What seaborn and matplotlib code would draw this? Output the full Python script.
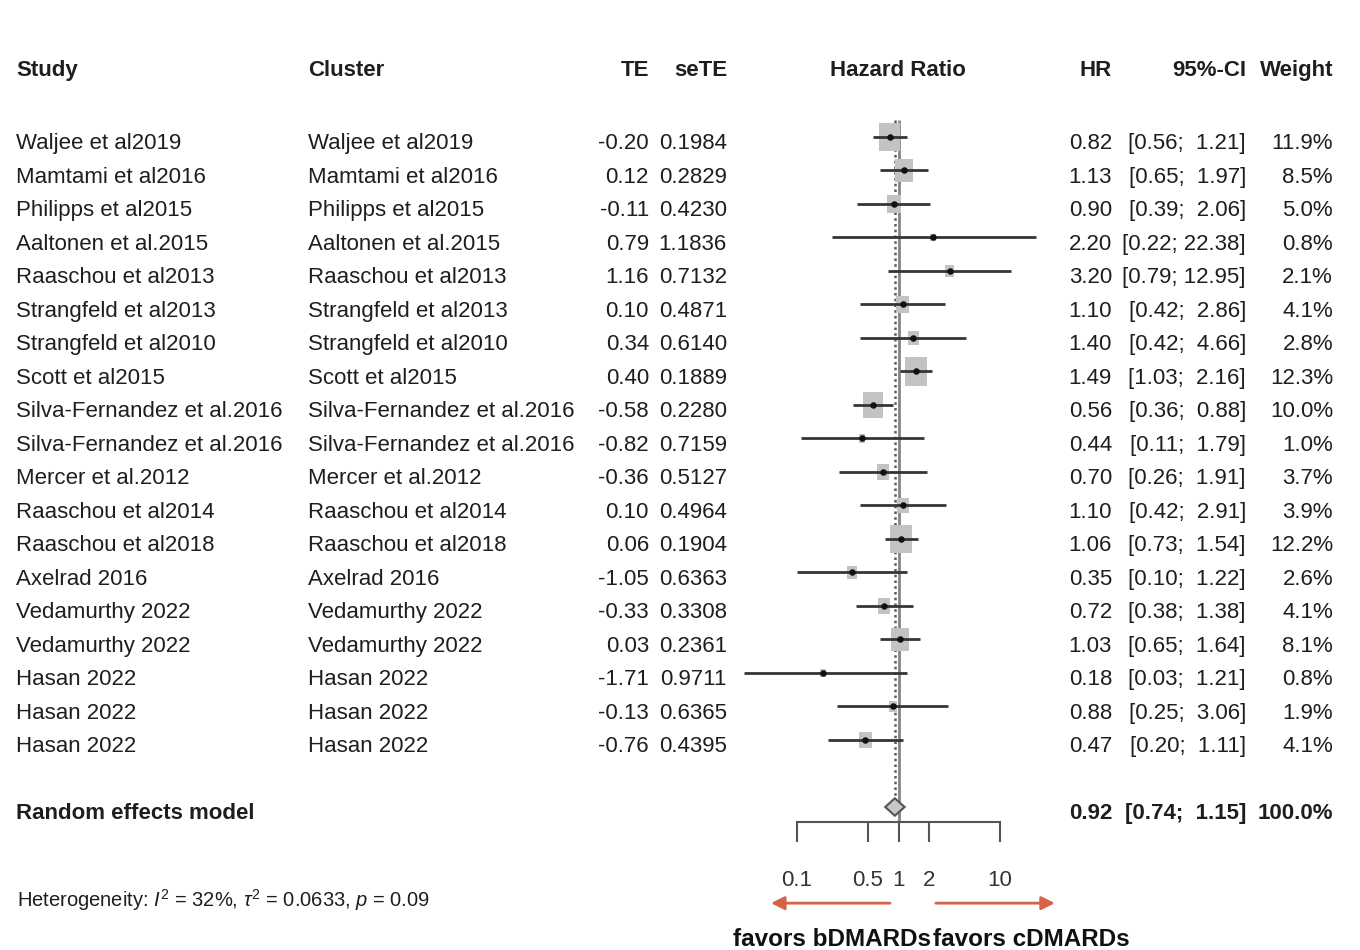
import numpy as np
import pandas as pd
import matplotlib
matplotlib.use("Agg")
import matplotlib.pyplot as plt
import seaborn as sns
from matplotlib.transforms import blended_transform_factory
from matplotlib.ticker import FixedLocator, FixedFormatter, NullLocator

# ---- study-level data -------------------------------------------------------
studies = [
    "Waljee et al2019", "Mamtami et al2016", "Philipps et al2015",
    "Aaltonen et al.2015", "Raaschou et al2013", "Strangfeld et al2013",
    "Strangfeld et al2010", "Scott et al2015", "Silva-Fernandez et al.2016",
    "Silva-Fernandez et al.2016", "Mercer et al.2012", "Raaschou et al2014",
    "Raaschou et al2018", "Axelrad 2016", "Vedamurthy 2022", "Vedamurthy 2022",
    "Hasan 2022", "Hasan 2022", "Hasan 2022",
]
clusters = list(studies)
te = [-0.20, 0.12, -0.11, 0.79, 1.16, 0.10, 0.34, 0.40, -0.58, -0.82,
      -0.36, 0.10, 0.06, -1.05, -0.33, 0.03, -1.71, -0.13, -0.76]
se_te = [0.1984, 0.2829, 0.4230, 1.1836, 0.7132, 0.4871, 0.6140, 0.1889,
         0.2280, 0.7159, 0.5127, 0.4964, 0.1904, 0.6363, 0.3308, 0.2361,
         0.9711, 0.6365, 0.4395]
hr = [0.82, 1.13, 0.90, 2.20, 3.20, 1.10, 1.40, 1.49, 0.56, 0.44,
      0.70, 1.10, 1.06, 0.35, 0.72, 1.03, 0.18, 0.88, 0.47]
ci_low = [0.56, 0.65, 0.39, 0.22, 0.79, 0.42, 0.42, 1.03, 0.36, 0.11,
          0.26, 0.42, 0.73, 0.10, 0.38, 0.65, 0.03, 0.25, 0.20]
ci_high = [1.21, 1.97, 2.06, 22.38, 12.95, 2.86, 4.66, 2.16, 0.88, 1.79,
           1.91, 2.91, 1.54, 1.22, 1.38, 1.64, 1.21, 3.06, 1.11]
weight = [11.9, 8.5, 5.0, 0.8, 2.1, 4.1, 2.8, 12.3, 10.0, 1.0,
          3.7, 3.9, 12.2, 2.6, 4.1, 8.1, 0.8, 1.9, 4.1]

# pooled estimate and heterogeneity
pooled_label = "Random effects model"
pooled_hr, pooled_low, pooled_high = 0.92, 0.74, 1.15
pooled_weight = 100.0
het_i2, het_tau2, het_p = 32, 0.0633, 0.09

# axis
axis_ticks = [0.1, 0.5, 1, 2, 10]
tick_labels = ["0.1", "0.5", "1", "2", "10"]
label_left, label_right = "favors bDMARDs", "favors cDMARDs"

# ---- style --------------------------------------------------------------------
sns.set_theme(style="white")
plt.rcParams["font.family"] = ["Liberation Sans", "DejaVu Sans"]
plt.rcParams["mathtext.fontset"] = "custom"
plt.rcParams["mathtext.rm"] = "Liberation Sans"
plt.rcParams["mathtext.it"] = "Liberation Sans:italic"
plt.rcParams["mathtext.bf"] = "Liberation Sans:bold"

TXT = "#1e1e1e"
LINE = "#353535"
SQUARE = "#c3c3c3"
ARROW = "#d4634a"
FS = 16

W, H = 1360, 950
fig = plt.figure(figsize=(W / 100, H / 100), dpi=100)
fig.patch.set_facecolor("white")

# forest panel geometry (pixels): HR = 1 at x_null, one decade per decade_px
x_null, decade_px = 898.5, 101.5
left_px, right_px = 736, 1061
row0_px, row_px = 137, 33.5

ax = fig.add_axes([left_px / W, 0, (right_px - left_px) / W, 1])
ax.patch.set_alpha(0)
ax.set_xscale("log")
ax.set_xlim(10 ** ((left_px - x_null) / decade_px),
            10 ** ((right_px - x_null) / decade_px))
ax.set_ylim((H - row0_px) / row_px, -row0_px / row_px)

n = len(studies)
df = pd.DataFrame({
    "study": studies, "cluster": clusters, "te": te, "se": se_te,
    "hr": hr, "low": ci_low, "high": ci_high, "weight": weight,
    "row": np.arange(n, dtype=float),
})
pooled_row = n + 1
axis_row = pooled_row + 0.44
diamond_half = 0.26

# reference line at HR = 1 and dotted line at the pooled estimate
ax.vlines(1, -0.5, axis_row, color="#858585", lw=2.0, zorder=0.5)
ax.vlines(pooled_hr, -0.5, pooled_row - diamond_half, color="#5a5a5a",
          lw=1.8, linestyles=(0, (1, 1.3)), zorder=0.6)

# weight boxes (area proportional to weight), slightly taller than wide
box = [(-0.5, -0.65), (0.5, -0.65), (0.5, 0.65), (-0.5, 0.65), (-0.5, -0.65)]
k = 34.0
sns.scatterplot(data=df, x="hr", y="row", size="weight",
                sizes=(k * df.weight.min(), k * df.weight.max()),
                marker=box, color=SQUARE, linewidth=0, legend=False,
                ax=ax, zorder=1)
# confidence intervals
ax.hlines(df.row, df.low, df.high, color=LINE, lw=2.0, zorder=2)
# point estimates
sns.scatterplot(data=df, x="hr", y="row", marker="o", s=22, color="#111111",
                linewidth=0, legend=False, ax=ax, zorder=3)

# pooled diamond
ax.fill([pooled_low, pooled_hr, pooled_high, pooled_hr],
        [pooled_row, pooled_row - diamond_half, pooled_row, pooled_row + diamond_half],
        facecolor="#c8c8c8", edgecolor="#555555", lw=1.5, zorder=3)

# bottom axis restricted to the tick range
for s in ["top", "left", "right"]:
    ax.spines[s].set_visible(False)
sp = ax.spines["bottom"]
sp.set_visible(True)
sp.set_position(("data", axis_row))
sp.set_bounds(axis_ticks[0], axis_ticks[-1])
sp.set_color("#555555")
sp.set_linewidth(1.5)
ax.xaxis.set_major_locator(FixedLocator(axis_ticks))
ax.xaxis.set_major_formatter(FixedFormatter(tick_labels))
ax.xaxis.set_minor_locator(NullLocator())
ax.tick_params(axis="x", which="major", bottom=True, direction="out",
               length=14.4, width=1.5, color="#555555", pad=20,
               labelsize=FS, labelcolor="#333333")
ax.set_yticks([])
ax.set_xlabel("")
ax.set_ylabel("")
ax.grid(False)

# direction arrows
arrow_row = 22.87
arrow_kw = dict(arrowstyle="-|>", color=ARROW, lw=2.0, mutation_scale=20)
ax.annotate("", xy=(0.052, arrow_row), xytext=(0.88, arrow_row),
            arrowprops=arrow_kw, annotation_clip=False)
ax.annotate("", xy=(37.0, arrow_row), xytext=(2.19, arrow_row),
            arrowprops=arrow_kw, annotation_clip=False)

# ---- table text --------------------------------------------------------------
tr = blended_transform_factory(fig.transFigure, ax.transData)
BASE = 0.36


def put(x_px, row, s, ha="left", bold=False, size=FS, color=TXT):
    ax.text(x_px / W, row + BASE, s, transform=tr, ha=ha, va="baseline",
            fontsize=size, fontweight="bold" if bold else "normal",
            color=color, clip_on=False)


header_row = -2.18
put(16, header_row, "Study", bold=True)
put(308, header_row, "Cluster", bold=True)
put(649, header_row, "TE", ha="right", bold=True)
put(727, header_row, "seTE", ha="right", bold=True)
put(898, header_row, "Hazard Ratio", ha="center", bold=True)
put(1112, header_row, "HR", ha="right", bold=True)
put(1246, header_row, "95%-CI", ha="right", bold=True)
put(1333, header_row, "Weight", ha="right", bold=True)

for r in df.itertuples():
    put(16, r.row, r.study)
    put(308, r.row, r.cluster)
    put(649, r.row, f"{r.te:.2f}", ha="right")
    put(727, r.row, f"{r.se:.4f}", ha="right")
    put(1112, r.row, f"{r.hr:.2f}", ha="right")
    put(1246, r.row, f"[{r.low:.2f}; {r.high:5.2f}]", ha="right")
    put(1333, r.row, f"{r.weight:.1f}%", ha="right")

put(16, pooled_row, pooled_label, bold=True)
put(1112, pooled_row, f"{pooled_hr:.2f}", ha="right", bold=True)
put(1246, pooled_row, f"[{pooled_low:.2f}; {pooled_high:5.2f}]", ha="right", bold=True)
put(1333, pooled_row, f"{pooled_weight:.1f}%", ha="right", bold=True)

put(17, 22.63,
    rf"Heterogeneity: $I^2$ = {het_i2}%, $\tau^2$ = {het_tau2:.4f}, $p$ = {het_p:.2f}",
    size=14.5)

put(931, 23.79, label_left, ha="right", bold=True, size=17.5, color="#111111")
put(933, 23.79, label_right, ha="left", bold=True, size=17.5, color="#111111")

fig.savefig("out.png", dpi=100, facecolor="white")
